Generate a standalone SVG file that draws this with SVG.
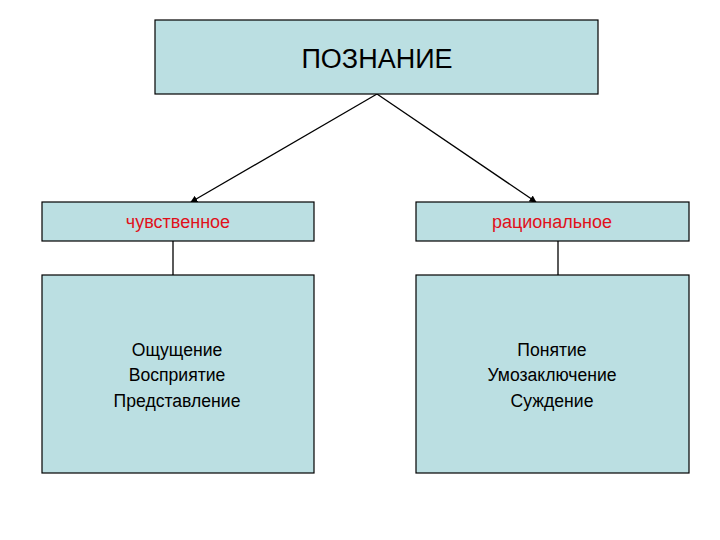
<svg xmlns="http://www.w3.org/2000/svg" width="720" height="540" viewBox="0 0 720 540">
<style>
.box{fill:#bbdfe2;stroke:#000;stroke-width:1.2}
.t{font-family:"Liberation Sans",Arial,sans-serif;text-anchor:middle;fill:#000}
.r{fill:#e0101a}
.c{stroke:#000;stroke-width:1.3;fill:none}
</style>
<defs>
<marker id="ah" viewBox="0 0 10 10" refX="9" refY="5" markerWidth="7" markerHeight="7" markerUnits="userSpaceOnUse" orient="auto">
<path d="M0,0 L10,5 L0,10 z" fill="#000"/>
</marker>
</defs>
<rect width="720" height="540" fill="#fff"/>
<g id="connectors">
<line class="c" x1="377" y1="94" x2="191" y2="202" marker-end="url(#ah)"/>
<line class="c" x1="377" y1="94" x2="536" y2="202" marker-end="url(#ah)"/>
<line class="c" x1="173" y1="241" x2="173" y2="275"/>
<line class="c" x1="558" y1="241" x2="558" y2="275"/>
</g>
<g id="poznanie">
<rect class="box" x="155" y="20" width="443" height="74"/>
<text class="t" x="377" y="68" font-size="27">ПОЗНАНИЕ</text>
</g>
<g id="chuvstvennoe">
<rect class="box" x="42" y="202" width="272" height="39"/>
<text class="t r" x="178" y="228" font-size="18">чувственное</text>
</g>
<g id="racionalnoe">
<rect class="box" x="416" y="202" width="273" height="39"/>
<text class="t r" x="552" y="228" font-size="18">рациональное</text>
</g>
<g id="chuv-list">
<rect class="box" x="42" y="275" width="272" height="198"/>
<text class="t" x="177" y="356" font-size="17.6">Ощущение</text>
<text class="t" x="177" y="381" font-size="17.6">Восприятие</text>
<text class="t" x="177" y="407" font-size="17.6">Представление</text>
</g>
<g id="rac-list">
<rect class="box" x="416" y="275" width="273" height="198"/>
<text class="t" x="552" y="356" font-size="17.6">Понятие</text>
<text class="t" x="552" y="381" font-size="17.6">Умозаключение</text>
<text class="t" x="552" y="407" font-size="17.6">Суждение</text>
</g>
</svg>
